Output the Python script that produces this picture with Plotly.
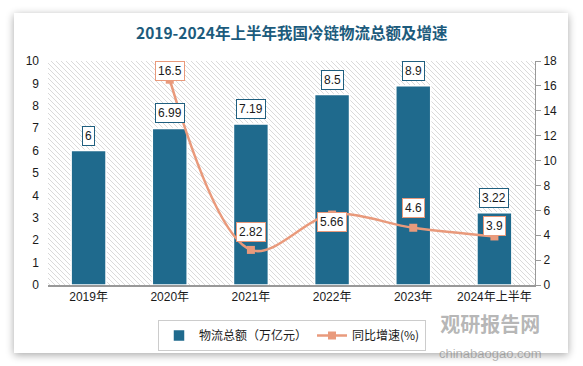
import base64
import plotly.graph_objects as go

# ---- data ----
categories = ["2019年", "2020年", "2021年", "2022年", "2023年", "2024年上半年"]
total_values = [6, 6.99, 7.19, 8.5, 8.9, 3.22]          # 物流总额（万亿元）
growth_values = [None, 16.5, 2.82, 5.66, 4.6, 3.9]      # 同比增速(%)
left_ticks = list(range(0, 11))
right_ticks = list(range(0, 19, 2))

# ---- layout constants (pixels) ----
W, H = 583, 366
L, R, T, B = 48, 535, 61, 285
PW, PH = R - L, B - T

BAR_COLOR = "#1f6a8d"
LINE_COLOR = "#e99a7c"
TEXT_COLOR = "#1a1a1a"
FONT = "Liberation Sans, Noto Sans CJK SC, sans-serif"

# background: card with shadow + hatched plot area (decorative)
svg = f"""<svg xmlns='http://www.w3.org/2000/svg' width='{W}' height='{H}' viewBox='0 0 {W} {H}'>
<defs>
<filter id='s' x='-10%' y='-10%' width='120%' height='120%'>
<feGaussianBlur in='SourceAlpha' stdDeviation='4'/>
<feOffset dx='0' dy='2' result='b'/>
<feComponentTransfer><feFuncA type='linear' slope='0.35'/></feComponentTransfer>
<feMerge><feMergeNode/><feMergeNode in='SourceGraphic'/></feMerge>
</filter>
<pattern id='p' width='5' height='5' patternUnits='userSpaceOnUse'>
<path d='M0,0 L5,5 M-1,4 L1,6 M4,-1 L6,1' stroke='#d6d6d6' stroke-width='0.9'/>
</pattern>
</defs>
<rect x='0' y='0' width='{W}' height='{H}' fill='#ffffff'/>
<rect x='14' y='13' width='554' height='340' fill='#ffffff' filter='url(#s)'/>
<rect x='{L}' y='{T}' width='{PW}' height='{PH}' fill='url(#p)'/>
</svg>"""
src = "data:image/svg+xml;base64," + base64.b64encode(svg.encode()).decode()

fig = go.Figure()

fig.add_trace(go.Bar(
    x=categories, y=total_values, name="物流总额（万亿元）",
    marker=dict(color=BAR_COLOR, line=dict(color="white", width=1.5)),
    yaxis="y", hoverinfo="x+y",
))
fig.add_trace(go.Scatter(
    x=categories, y=growth_values, name="同比增速(%)",
    mode="lines+markers", yaxis="y2",
    line=dict(color=LINE_COLOR, width=2.5, shape="spline", smoothing=1.0),
    marker=dict(symbol="square", size=8, color=LINE_COLOR),
    connectgaps=False,
))

annotations = []
for c, v in zip(categories, total_values):
    annotations.append(dict(
        x=c, y=v, xref="x", yref="y", text=str(v), showarrow=False,
        yshift=15, font=dict(size=12, color=TEXT_COLOR, family=FONT),
        bgcolor="white", bordercolor="#1f5f7f", borderwidth=1, borderpad=2,
    ))
line_label_shift = [0, 9, 18, -7, 20, 10]
for c, v, s in zip(categories, growth_values, line_label_shift):
    if v is None:
        continue
    annotations.append(dict(
        x=c, y=v, xref="x", yref="y2", text=str(v), showarrow=False,
        yshift=s, font=dict(size=12, color=TEXT_COLOR, family=FONT),
        bgcolor="white", bordercolor=LINE_COLOR, borderwidth=1, borderpad=2,
    ))

# title
annotations.append(dict(
    text="<b>2019-2024年上半年我国冷链物流总额及增速</b>",
    xref="paper", yref="paper", x=(292 - L) / PW, y=(B - 32) / PH,
    xanchor="center", yanchor="middle", showarrow=False,
    font=dict(size=15.5, color="#1c5b7c", family="Noto Sans CJK SC, serif"),
))
# watermark (one text block)
annotations.append(dict(
    text="<b>观研报告网</b><br><span style='font-size:13px;font-family:Liberation Sans'>chinabaogao.com</span>",
    xref="paper", yref="paper",
    x=(490 - L) / PW, y=(B - 307) / PH, xanchor="center", yanchor="top",
    showarrow=False, align="center",
    font=dict(size=20, color="rgba(120,120,120,0.55)", family="Noto Sans CJK SC"),
))

fig.update_layout(
    width=W, height=H,
    margin=dict(l=L, r=W - R, t=T, b=H - B, pad=0, autoexpand=False),
    paper_bgcolor="white", plot_bgcolor="rgba(0,0,0,0)",
    font=dict(family=FONT, size=12, color=TEXT_COLOR),
    bargap=0.57,
    showlegend=True,
    legend=dict(
        orientation="h", x=(158 - L) / PW, y=(B - 320) / PH,
        xanchor="left", yanchor="top",
        bordercolor="#cccccc", borderwidth=1, bgcolor="rgba(255,255,255,0)",
        font=dict(size=12, color=TEXT_COLOR, family="Noto Sans CJK SC"),
        itemwidth=30, tracegroupgap=0,
    ),
    xaxis=dict(
        showline=True, linecolor="#999999", linewidth=1.5, ticks="",
        showgrid=False, tickfont=dict(size=12, color=TEXT_COLOR, family=FONT),
    ),
    yaxis=dict(
        range=[0, 10], tickvals=left_ticks, showgrid=False, zeroline=False,
        showline=False, ticks="", tickfont=dict(size=12, color=TEXT_COLOR),
        ticklabelstandoff=8,
    ),
    yaxis2=dict(
        range=[0, 18], tickvals=right_ticks, overlaying="y", side="right",
        showgrid=False, zeroline=False, showline=True, linecolor="#999999",
        linewidth=1, ticks="outside", ticklen=5, tickcolor="#999999",
        tickfont=dict(size=12, color=TEXT_COLOR),
    ),
    annotations=annotations,
    images=[dict(
        source=src, xref="paper", yref="paper",
        x=-L / PW, y=1 + T / PH, sizex=W / PW, sizey=H / PH,
        xanchor="left", yanchor="top", sizing="stretch", layer="below",
    )],
)

fig.write_html(
    "out.html",
    config={"displayModeBar": False},
    post_script="document.body.style.margin='0px';document.body.style.overflow='hidden';",
)
